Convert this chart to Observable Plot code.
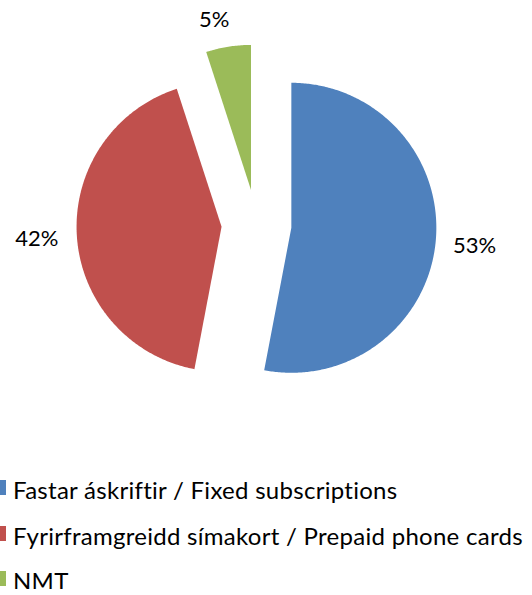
<!DOCTYPE html>
<html>
<head>
<meta charset="utf-8">
<script src="https://cdn.jsdelivr.net/npm/d3@7"></script>
<script src="https://cdn.jsdelivr.net/npm/@observablehq/plot@0.6"></script>
<style>
  body { margin: 0; background: #fff; font-family: Lato, "Open Sans", sans-serif; overflow: hidden; }
  #legend { padding-top: 22px; }
  .item { position: relative; height: 16px; line-height: 16px; margin-bottom: 29.5px; font-size: 24px; letter-spacing: 0.28px; color: #000; white-space: nowrap; }
  .item:last-child { margin-bottom: 0; }
  .sw { position: absolute; left: 0; top: -2px; width: 6px; height: 15px; }
  .lbl { position: absolute; left: 13px; top: 0; }
</style>
</head>
<body>
<div id="chart"></div>
<div id="legend"></div>
<script>
const categories = ["Fastar áskriftir / Fixed subscriptions", "Fyrirframgreidd símakort / Prepaid phone cards", "NMT"];
const shares = [53, 42, 5];
const labels = ["53%", "42%", "5%"];
const colors = ["#4F81BD", "#C0504D", "#9BBB59"];

const W = 532, H = 460;
const cx = 256, cy = 224;     // pie center in px
const R = 145, explode = 35, labelR = 219;

const arcs = d3.pie().sort(null).value(d => d)(shares);

// polygons in a y-up coordinate system centered on the pie
const poly = [];
arcs.forEach((a, i) => {
  const mid = (a.startAngle + a.endAngle) / 2;
  const ox = explode * Math.sin(mid), oy = explode * Math.cos(mid);
  poly.push({cat: categories[i], x: ox, y: oy});
  const n = Math.max(2, Math.ceil((a.endAngle - a.startAngle) / 0.01));
  for (let k = 0; k <= n; k++) {
    const t = a.startAngle + (a.endAngle - a.startAngle) * k / n;
    poly.push({cat: categories[i], x: ox + R * Math.sin(t), y: oy + R * Math.cos(t)});
  }
});

const nudge = [[0, -1], [-1, -1], [-8, -12]];
const lab = arcs.map((a, i) => {
  const mid = (a.startAngle + a.endAngle) / 2;
  return {label: labels[i], x: labelR * Math.sin(mid) + nudge[i][0], y: labelR * Math.cos(mid) + nudge[i][1]};
});

const chart = Plot.plot({
  width: W, height: H,
  margin: 0,
  x: {domain: [-cx, W - cx], axis: null},
  y: {domain: [cy - H, cy], axis: null},
  color: {domain: categories, range: colors},
  style: {background: "#fff"},
  marks: [
    Plot.line(poly, {x: "x", y: "y", z: "cat", fill: "cat", stroke: "none", curve: "linear-closed"}),
    Plot.text(lab, {x: "x", y: "y", text: "label", fontSize: 22, fill: "#000", fontFamily: "Lato"})
  ]
});
document.getElementById("chart").appendChild(chart);

const leg = document.getElementById("legend");
categories.forEach((c, i) => {
  const d = document.createElement("div");
  d.className = "item";
  d.innerHTML = `<span class="sw" style="background:${colors[i]}"></span><span class="lbl"></span>`;
  d.querySelector(".lbl").textContent = c;
  leg.appendChild(d);
});
</script>
</body>
</html>
